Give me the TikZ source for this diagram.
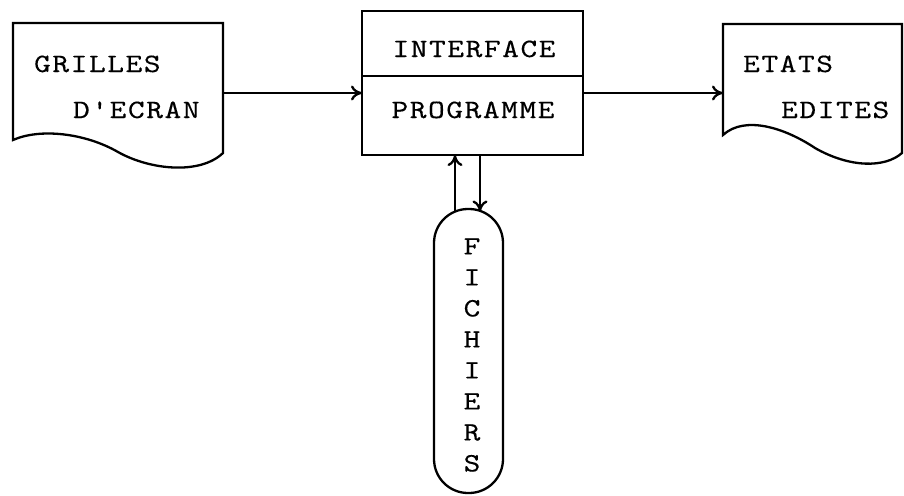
\documentclass[tikz,border=0pt]{standalone}
\usepackage{fontspec}
\usetikzlibrary{arrows.meta}
\newfontfamily\twfam{lmmono10-regular.otf}[FakeStretch=1.2, LetterSpace=6, FakeBold=0.3]
\newcommand\twfont{\twfam\fontsize{26.5}{31}\selectfont}
\begin{document}
\begin{tikzpicture}[x=1pt,y=-1pt,
  line width=2.3pt,
  arr/.style={-{To[length=11pt,width=15pt]}, line width=2.3pt},
  lbl/.style={anchor=base west, inner sep=0pt, font=\twfont},
  clbl/.style={anchor=base, inner sep=0pt, font=\twfont},
  docarea/.style={anchor=north west, inner sep=0pt, outer sep=0pt},
  boxpart/.style={draw, anchor=north west, inner sep=0pt, outer sep=0pt, minimum width=221pt}]
\useasboundingbox (0,0) rectangle (904,495);
% left document
\node[docarea, minimum width=210pt, minimum height=130pt] (grilles) at (13,23) {};
\draw (grilles.south east) -- (grilles.north east) -- (grilles.north west) -- (13,140)
  .. controls (40,128) and (85,133) .. (118,152)
  .. controls (150,170) and (200,175) .. (grilles.south east) -- cycle;
\node[lbl] (tgr) at (33,72) {GRILLES};
\node[lbl] (tde) at (72,118) {D'ECRAN};
% right document
\node[docarea, minimum width=179pt, minimum height=129pt] (etats) at (723,24) {};
\draw (etats.south east) -- (etats.north east) -- (etats.north west) -- (723,135)
  .. controls (745,115) and (785,128) .. (815,148)
  .. controls (850,168) and (885,168) .. (etats.south east) -- cycle;
\node[lbl] (tet) at (742,72) {ETATS};
\node[lbl] (ted) at (780,118) {EDITES};
% middle box
\node[boxpart, minimum height=65pt] (iface) at (362,11) {};
\node[boxpart, minimum height=79pt] (prog) at (iface.south west) {};
\node[clbl] (tif) at (474,57) {INTERFACE};
\node[clbl] (tpr) at (473,118) {PROGRAMME};
% files
\node[draw, rectangle, rounded corners=34pt, minimum width=69pt, minimum height=284pt,
  inner sep=0pt, outer sep=0pt] (fich) at (468.5,351) {};
\node[font=\twfont, align=center, inner sep=0pt] (tfi) at (472,355) {F\\I\\C\\H\\I\\E\\R\\S};
% connectors
\coordinate (flow) at (0,93);
\coordinate (upx) at (455,0);
\coordinate (dnx) at (480,0);
\coordinate (ftop) at ([yshift=-2.5pt]fich.north);
\draw[arr] (grilles.east |- flow) -- (prog.west |- flow);
\draw[arr] (prog.east |- flow) -- (etats.west |- flow);
\draw[arr] (ftop -| upx) -- (prog.south -| upx);
\draw[arr] (prog.south -| dnx) -- (ftop -| dnx);
\end{tikzpicture}
\end{document}
